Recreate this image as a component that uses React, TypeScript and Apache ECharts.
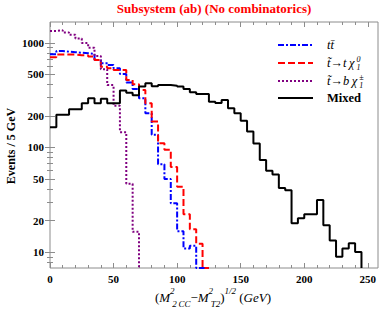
import React, { useEffect, useRef } from 'react';
import * as echarts from 'echarts';

// ---- data (events per 5 GeV bin, bins start at 0 GeV) ----
const BIN_WIDTH = 5;
const ttbar = [780, 835, 825, 815, 805, 797, 785, 687, 640, 615, 573, 505, 417, 363, 295, 212, 132, 69, 50, 29.2, 15.8, 10.8, 11.5];
const stopToTopNeutralino = [729, 773, 773, 773, 762, 762, 740, 687, 593, 573, 552, 552, 443, 402, 355, 265, 177, 110, 95, 65, 42, 23, 16.5, 12];
const stopToBottomChargino = [1300, 1320, 1260, 1200, 1100, 1000, 900, 750, 560, 395, 250, 140, 45, 15.6];
const mixed = [156, 205, 205, 232, 232, 265, 296, 265, 292, 265, 265, 350, 334, 315, 382, 411, 385, 396, 396, 390, 382, 362, 338, 325, 325, 274, 266, 285, 237, 212, 180, 142, 109, 76, 60, 55, 41, 39, 18.8, 21, 23, 23, 31.4, 18, 12.9, 9.0, 10.8, 12.1, 10];

// ---- axes ----
const xMajorTicks = [0, 50, 100, 150, 200, 250];
const xMinorTicks = [10, 20, 30, 40, 60, 70, 80, 90, 110, 120, 130, 140, 160, 170, 180, 190, 210, 220, 230, 240];
const yMajorTicks = [10, 20, 50, 100, 200, 500, 1000];
const yMinorTicks = [8, 9, 30, 40, 60, 70, 80, 90, 300, 400, 600, 700, 800, 900];

const X_MIN = 0;
const X_MAX = 258;
const Y_MIN = 0.847; // log10 of lower bound (~7)
const Y_MAX = 3.2; // log10 of upper bound (~1585)

const FONT = 'Liberation Serif';
const FRAME = '#8c8c8c';

const lg = (v: number) => Math.log10(v);

function histogram(values: number[], tailBins: number) {
  const pts: number[][] = values.map((v, i) => [i * BIN_WIDTH, lg(v)]);
  const end = values.length * BIN_WIDTH;
  pts.push([end, Y_MIN]);
  if (tailBins > 0) pts.push([end + tailBins * BIN_WIDTH, Y_MIN]);
  return pts;
}

const seriesDefs = [
  { name: 'ttbar', values: ttbar, tail: 2, color: '#0000ff', dash: [6, 2, 2, 2] },
  { name: 'neutralino', values: stopToTopNeutralino, tail: 1, color: '#ff0000', dash: [7, 3] },
  { name: 'chargino', values: stopToBottomChargino, tail: 0, color: '#800080', dash: [2, 2] },
  { name: 'Mixed', values: mixed, tail: 0, color: '#000000', dash: 'solid' as any },
];

function xAxisDef(position: 'bottom' | 'top', ticks: number[], len: number, labels: boolean) {
  return {
    type: 'value',
    min: X_MIN,
    max: X_MAX,
    position,
    axisLine: { show: false },
    splitLine: { show: false },
    axisTick: { show: true, inside: true, length: len, customValues: ticks, lineStyle: { color: FRAME, width: 1 } },
    axisLabel: labels
      ? { show: true, customValues: ticks, margin: 5, color: '#000', fontFamily: FONT, fontWeight: 'bold', fontSize: 11 }
      : { show: false },
  };
}

function yAxisDef(position: 'left' | 'right', ticks: number[], len: number, labels: boolean) {
  const vals = ticks.map(lg);
  return {
    type: 'value',
    min: Y_MIN,
    max: Y_MAX,
    position,
    axisLine: { show: false },
    splitLine: { show: false },
    axisTick: { show: true, inside: true, length: len, customValues: vals, lineStyle: { color: FRAME, width: 1 } },
    axisLabel: labels
      ? {
          show: true,
          customValues: vals,
          margin: 6,
          color: '#000',
          fontFamily: FONT,
          fontWeight: 'bold',
          fontSize: 11,
          formatter: (v: number) => String(Math.round(Math.pow(10, v))),
        }
      : { show: false },
  };
}

const mathRich = (main: number, script: number, lh: number, supLh: number, subLh: number) => ({
  n: { fontFamily: FONT, fontSize: main, fontStyle: 'normal', lineHeight: lh, fill: '#000' },
  i: { fontFamily: FONT, fontSize: main, fontStyle: 'italic', lineHeight: lh, fill: '#000' },
  ip: { fontFamily: FONT, fontSize: main, fontStyle: 'italic', lineHeight: lh, padding: [0, 2, 0, 0], fill: '#000' },
  m: { fontFamily: FONT, fontSize: main, fontWeight: 'bold', lineHeight: lh, fill: '#000' },
  s0: { fontFamily: FONT, fontSize: script, fontStyle: 'italic', lineHeight: supLh, verticalAlign: 'top', width: 0.01, fill: '#000' },
  p: { fontFamily: FONT, fontSize: script, fontStyle: 'italic', lineHeight: supLh, verticalAlign: 'top', fill: '#000' },
  b: { fontFamily: FONT, fontSize: script, fontStyle: 'italic', lineHeight: subLh, verticalAlign: 'bottom', fill: '#000' },
});

const legendRows = [
  { y: 45, color: '#0000ff', dash: [6, 2, 2, 2], text: '{i|tt\u0304}' },
  { y: 63, color: '#ff0000', dash: [7, 3], text: '{i|t\u0303\u2192t\u2009}{ip|\u03c7}{s0|0}{b|1}' },
  { y: 81, color: '#800080', dash: [2, 2], text: '{i|t\u0303\u2192b\u2009}{ip|\u03c7}{s0|\u00b1}{b|1}' },
  { y: 98, color: '#000000', dash: null as any, text: '{m|Mixed}' },
];

function buildOption() {
  const graphic: any[] = [
    {
      type: 'text',
      x: 214,
      y: 8,
      style: {
        text: 'Subsystem (ab) (No combinatorics)',
        align: 'center',
        verticalAlign: 'middle',
        fill: '#ff0000',
        font: `bold 13px "${FONT}"`,
      },
    },
    {
      type: 'text',
      x: 11,
      y: 146,
      rotation: Math.PI / 2,
      style: {
        text: 'Events / 5 GeV',
        align: 'center',
        verticalAlign: 'middle',
        fill: '#000',
        font: `bold 12px "${FONT}"`,
      },
    },
    {
      type: 'text',
      x: 213,
      y: 297,
      style: {
        text: '{n|(}{ip|M}{s0|2}{b|2\u2009CC}{n|\u2212}{ip|M}{s0|2}{b|T2}{n|)}{p|1/2}{n| (}{i|GeV}{n|)}',
        align: 'center',
        verticalAlign: 'middle',
        rich: mathRich(13, 9, 22, 4, 16),
      },
    },
  ];
  legendRows.forEach((r) => {
    graphic.push({
      type: 'line',
      shape: { x1: 278, y1: r.y, x2: 313, y2: r.y },
      style: { stroke: r.color, lineWidth: 2, lineDash: r.dash || undefined },
    });
    graphic.push({
      type: 'text',
      x: 327,
      y: r.y,
      style: {
        text: r.text,
        align: 'left',
        verticalAlign: 'middle',
        rich: mathRich(12.5, 8, 16, 8, 8),
      },
    });
  });

  return {
    animation: false,
    backgroundColor: '#ffffff',
    grid: { left: 50, right: 4, top: 22, bottom: 41, show: true, borderColor: FRAME, borderWidth: 1, backgroundColor: 'transparent' },
    xAxis: [
      xAxisDef('bottom', xMajorTicks, 5, true),
      xAxisDef('bottom', xMinorTicks, 3, false),
      xAxisDef('top', xMajorTicks, 5, false),
      xAxisDef('top', xMinorTicks, 3, false),
    ],
    yAxis: [
      yAxisDef('left', yMajorTicks, 5, true),
      yAxisDef('left', yMinorTicks, 3, false),
      yAxisDef('right', yMajorTicks, 5, false),
      yAxisDef('right', yMinorTicks, 3, false),
    ],
    series: seriesDefs.map((s) => ({
      name: s.name,
      type: 'line',
      step: 'end',
      xAxisIndex: 0,
      yAxisIndex: 0,
      symbol: 'none',
      silent: true,
      clip: true,
      data: histogram(s.values, s.tail),
      lineStyle: { color: s.color, width: 2, type: s.dash, cap: 'butt' },
    })),
    graphic,
  };
}

export default function App() {
  const ref = useRef<HTMLDivElement>(null);
  useEffect(() => {
    if (!ref.current) return;
    const chart = echarts.init(ref.current, null, { renderer: 'svg' });
    chart.setOption(buildOption() as any);
    return () => chart.dispose();
  }, []);
  return <div ref={ref} style={{ position: 'fixed', left: 0, top: 0, width: 382, height: 309 }} />;
}
